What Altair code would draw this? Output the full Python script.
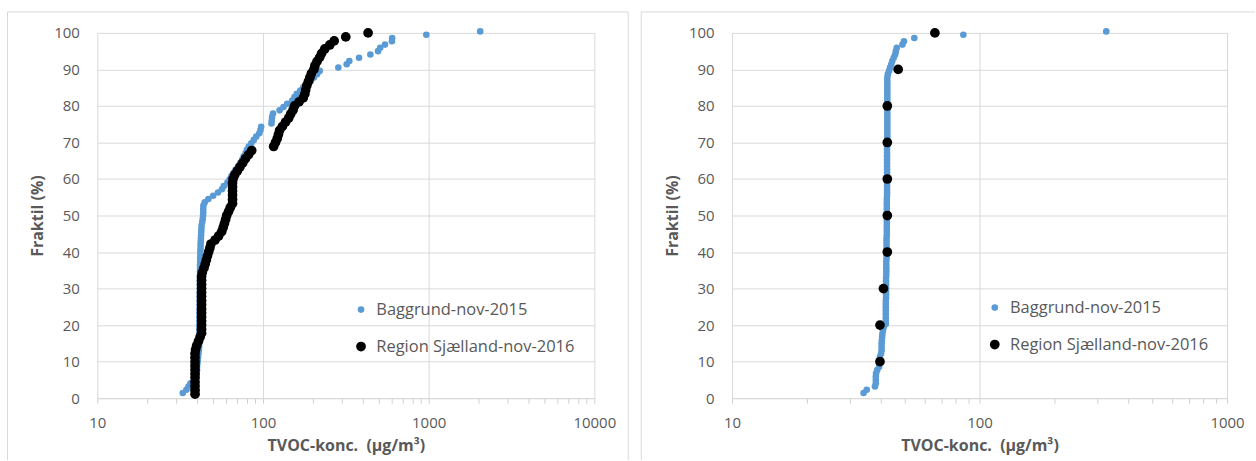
import altair as alt
import pandas as pd

SERIES = ["Baggrund-nov-2015", "Region Sjælland-nov-2016"]
COLORS = ["#5B9BD5", "#000000"]

# Fraktil (%) of the background campaign (same ranks in both panels)
baggrund_fraktil = [
    1.4, 2.3, 3.2, 4.1, 5.0, 5.9, 6.8, 7.7, 8.6, 9.5,
    10.4, 11.3, 12.2, 13.1, 14.0, 14.9, 15.8, 16.7, 17.6, 18.5,
    19.4, 20.3, 21.2, 22.1, 23.0, 23.9, 24.8, 25.7, 26.6, 27.5,
    28.4, 29.3, 30.2, 31.1, 32.0, 32.9, 33.8, 34.7, 35.6, 36.5,
    37.4, 38.3, 39.2, 40.1, 41.0, 41.9, 42.8, 43.7, 44.6, 45.5,
    46.4, 47.3, 48.2, 49.1, 50.0, 50.9, 51.8, 52.7, 53.6, 54.5,
    55.4, 56.3, 57.2, 58.1, 59.0, 59.9, 60.8, 61.7, 62.6, 63.5,
    64.4, 65.3, 66.2, 67.1, 68.0, 68.9, 69.8, 70.7, 71.6, 72.5,
    73.4, 74.3, 75.2, 76.1, 77.0, 77.9, 78.8, 79.7, 80.6, 81.5,
    82.4, 83.3, 84.2, 85.1, 86.0, 86.9, 87.8, 88.7, 89.6, 90.5,
    91.4, 92.3, 93.2, 94.1, 95.0, 95.9, 96.8, 97.7, 98.6, 99.5,
    100.4,
]

# Left panel: TVOC concentrations (µg/m³)
venstre_baggrund = [
    32.8, 34.5, 35.5, 36.5, 38.5, 39.5, 39.8, 40.0, 40.0, 40.2,
    40.4, 40.6, 40.8, 41.0, 41.2, 41.2, 41.2, 41.2, 41.3, 41.3,
    41.3, 41.4, 41.4, 41.4, 41.4, 41.4, 41.5, 41.5, 41.5, 41.5,
    41.5, 41.6, 41.6, 41.6, 41.6, 41.6, 41.7, 41.7, 41.7, 41.7,
    41.8, 41.8, 41.9, 41.9, 42.0, 42.0, 42.1, 42.2, 42.3, 42.4,
    42.5, 42.6, 43.0, 43.3, 43.5, 43.6, 43.6, 43.7, 44.5, 46.8,
    50.0, 53.5, 56.5, 58.0, 61.0, 63.0, 64.5, 66.5, 68.5, 71.0,
    73.0, 75.0, 76.5, 78.5, 80.0, 82.0, 85.0, 88.0, 91.0, 95.0,
    96.5, 97.5, 112.5, 113.0, 113.5, 115.0, 126.0, 133.0, 140.0, 150.0,
    155.0, 160.0, 168.0, 175.0, 185.0, 195.0, 203.0, 212.0, 220.0, 285.0,
    320.0, 332.0, 380.0, 445.0, 495.0, 510.0, 545.0, 600.0, 602.0, 968.0,
    2047.0,
]
venstre_region_fraktil = [
    1.1, 2.2, 3.3, 4.4, 5.6, 6.7, 7.8, 8.9, 10.0, 11.1,
    12.2, 13.3, 14.4, 15.6, 16.7, 17.8, 18.9, 20.0, 21.1, 22.2,
    23.3, 24.4, 25.6, 26.7, 27.8, 28.9, 30.0, 31.1, 32.2, 33.3,
    34.4, 35.6, 36.7, 37.8, 38.9, 40.0, 41.1, 42.2, 43.3, 44.4,
    45.6, 46.7, 47.8, 48.9, 50.0, 51.1, 52.2, 53.3, 54.4, 55.6,
    56.7, 57.8, 58.9, 60.0, 61.1, 62.2, 63.3, 64.4, 65.6, 66.7,
    67.8, 68.9, 70.0, 71.1, 72.2, 73.3, 74.4, 75.6, 76.7, 77.8,
    78.9, 80.0, 81.1, 82.2, 83.3, 84.4, 85.6, 86.7, 87.8, 88.9,
    90.0, 91.1, 92.2, 93.3, 94.4, 95.6, 96.7, 97.8, 98.9, 100.0,
]
venstre_region = [
    38.9, 38.9, 38.9, 38.9, 38.9, 38.9, 38.9, 38.9, 38.9, 38.9,
    38.9, 39.2, 39.8, 40.8, 41.7, 42.6, 42.6, 42.6, 42.6, 42.6,
    42.6, 42.6, 42.6, 42.6, 42.6, 42.6, 42.6, 42.6, 42.6, 42.6,
    43.0, 44.0, 44.8, 45.5, 46.2, 47.0, 47.8, 48.5, 51.4, 54.0,
    56.4, 57.5, 58.5, 59.5, 60.4, 62.0, 63.5, 65.5, 65.5, 65.5,
    65.5, 65.5, 65.5, 66.0, 67.5, 70.0, 72.6, 75.5, 78.5, 82.0,
    85.5, 116.0, 119.0, 122.0, 124.0, 126.0, 131.0, 137.0, 143.0, 147.0,
    152.0, 155.0, 165.0, 175.0, 179.0, 181.0, 184.0, 188.0, 192.0, 196.0,
    203.0, 206.0, 212.0, 220.0, 226.0, 236.0, 253.0, 269.0, 316.0, 431.0,
]

# Right panel: TVOC concentrations (µg/m³)
hoejre_baggrund = [
    34.0, 35.0, 37.8, 38.1, 38.1, 38.1, 38.2, 38.6, 39.3, 39.3,
    39.4, 39.6, 40.0, 40.2, 40.2, 40.2, 40.3, 40.4, 40.5, 40.7,
    41.0, 41.8, 41.8, 41.8, 41.8, 41.8, 41.8, 41.8, 41.8, 41.9,
    41.9, 41.9, 41.9, 41.9, 41.9, 41.9, 42.0, 42.0, 42.0, 42.0,
    42.0, 42.1, 42.1, 42.1, 42.1, 42.1, 42.1, 42.1, 42.2, 42.2,
    42.2, 42.2, 42.2, 42.2, 42.2, 42.2, 42.2, 42.2, 42.2, 42.2,
    42.3, 42.3, 42.3, 42.3, 42.3, 42.3, 42.3, 42.3, 42.3, 42.3,
    42.3, 42.3, 42.3, 42.3, 42.3, 42.3, 42.3, 42.4, 42.4, 42.4,
    42.4, 42.4, 42.4, 42.4, 42.4, 42.4, 42.4, 42.4, 42.4, 42.4,
    42.4, 42.4, 42.4, 42.4, 42.4, 42.4, 42.4, 42.6, 43.1, 43.5,
    44.0, 44.4, 45.0, 45.6, 45.9, 46.3, 48.8, 49.5, 54.5, 86.0,
    325.0,
]
hoejre_region_fraktil = [10, 20, 30, 40, 50, 60, 70, 80, 90, 100]
hoejre_region = [39.6, 39.6, 40.9, 42.4, 42.4, 42.4, 42.4, 42.4, 46.9, 66.0]

# Axis ticks
fraktil_ticks = [0, 10, 20, 30, 40, 50, 60, 70, 80, 90, 100]
log_ticks_venstre = [
    10, 20, 30, 40, 50, 60, 70, 80, 90,
    100, 200, 300, 400, 500, 600, 700, 800, 900,
    1000, 2000, 3000, 4000, 5000, 6000, 7000, 8000, 9000, 10000,
]
log_ticks_hoejre = [
    10, 20, 30, 40, 50, 60, 70, 80, 90,
    100, 200, 300, 400, 500, 600, 700, 800, 900, 1000,
]
dekader_venstre = [10, 100, 1000, 10000]
dekader_hoejre = [10, 100, 1000]

GRID = "#d9d9d9"
TEXT = "#595959"
FONT = "Open Sans"
PLOT_H = 366


def panel(b_x, r_x, r_y, ticks, decades, width, leg_x, leg_y,
          left_edge, right_edge, right_border):
    df = pd.DataFrame({
        "konc": list(b_x) + list(r_x),
        "fraktil": list(baggrund_fraktil[: len(b_x)]) + list(r_y),
        "serie": [SERIES[0]] * len(b_x) + [SERIES[1]] * len(r_x),
    })
    dec_test = f"indexof({decades}, datum.value) >= 0"
    legend = alt.Legend(
        orient="none", legendX=leg_x, legendY=leg_y, title=None,
        labelFont=FONT, labelFontSize=16.5, labelColor=TEXT, labelLimit=400,
        rowPadding=20, labelOffset=7, symbolType="circle",
        symbolStrokeWidth=0,
    )
    points = alt.Chart(df).mark_circle(opacity=1).encode(
        x=alt.X(
            "konc:Q",
            scale=alt.Scale(type="log", domain=[decades[0], decades[-1]], nice=False),
            axis=alt.Axis(
                values=ticks,
                title="TVOC-konc.\u00a0 (µg/m³)",
                labelExpr=f"{dec_test} ? '' + datum.value : ''",
                gridOpacity={"condition": {"test": dec_test, "value": 1}, "value": 0},
                gridColor=GRID, domainColor=GRID, tickColor="#cfcfcf",
                tickSize=5, labelPadding=12, labelFlush=False,
                labelOverlap=False, titlePadding=7,
            ),
        ),
        y=alt.Y(
            "fraktil:Q",
            scale=alt.Scale(domain=[0, 100], nice=False),
            axis=alt.Axis(
                values=fraktil_ticks, title="Fraktil (%)",
                gridColor=GRID, domain=False, ticks=False,
                labelPadding=18, titlePadding=8,
            ),
        ),
        color=alt.Color("serie:N", scale=alt.Scale(domain=SERIES, range=COLORS), legend=legend),
        size=alt.Size("serie:N", scale=alt.Scale(domain=SERIES, range=[44, 95]), legend=legend),
    )

    frame = alt.Chart(alt.Data(values=[{}])).mark_rule(color=GRID, strokeWidth=1)
    layers = [
        frame.encode(x=alt.value(left_edge), x2=alt.value(right_edge), y=alt.value(-21)),
        frame.encode(x=alt.value(left_edge), y=alt.value(-21), y2=alt.value(428)),
    ]
    if right_border:
        layers.append(frame.encode(x=alt.value(right_edge), y=alt.value(-21), y2=alt.value(428)))
    return alt.layer(*layers, points).properties(width=width, height=PLOT_H)


venstre = panel(venstre_baggrund, venstre_region, venstre_region_fraktil,
                log_ticks_venstre, dekader_venstre, 498, 256, 269, -90, 532, True)
hoejre = panel(hoejre_baggrund, hoejre_region, hoejre_region_fraktil,
               log_ticks_hoejre, dekader_hoejre, 496, 255, 267, -91, 524, False)

chart = (
    alt.hconcat(venstre, hoejre, spacing=11)
    .resolve_legend(color="independent", size="independent")
    .properties(padding={"left": 6.5, "top": 10.5, "right": 0, "bottom": 0})
    .configure_view(strokeWidth=0)
    .configure_axis(
        labelFont=FONT, labelFontSize=15, labelColor=TEXT,
        titleFont=FONT, titleFontSize=16, titleFontWeight="bold", titleColor=TEXT,
        gridWidth=1,
    )
)

chart.save("out.html", embed_options={"renderer": "svg", "actions": False})
